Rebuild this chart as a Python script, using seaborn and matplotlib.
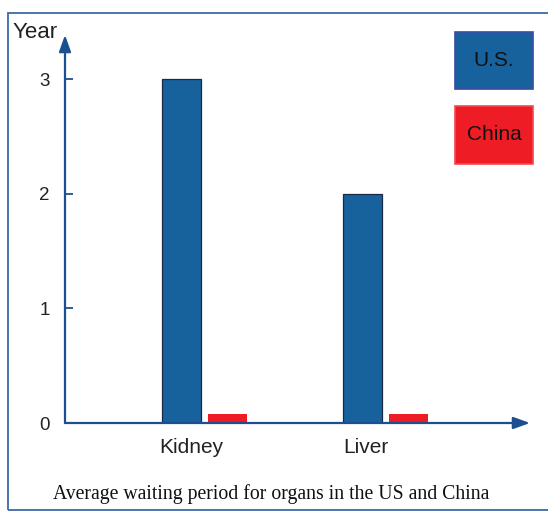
import matplotlib
matplotlib.use("Agg")
import matplotlib.pyplot as plt
import matplotlib.transforms as mtrans
from matplotlib.patches import Rectangle
import seaborn as sns
import pandas as pd

# ---- data ----
organs = ["Kidney", "Liver"]
countries = ["U.S.", "China"]
us_years = [3, 2]
china_years = [0.08, 0.08]
y_ticks = [0, 1, 2, 3]
caption = "Average waiting period for organs in the US and China"
y_title = "Year"

US_COLOR = "#17629d"
CN_COLOR = "#ee1c25"
AXIS_COLOR = "#1c4f8f"

df = pd.DataFrame({
    "organ": organs * 2,
    "country": [countries[0]] * len(organs) + [countries[1]] * len(organs),
    "years": us_years + china_years,
})

sns.set_style("white")
plt.rcParams["font.family"] = ["Liberation Sans", "DejaVu Sans"]

W, H = 548, 513
fig = plt.figure(figsize=(W / 100, H / 100), dpi=100)
# axes: x from 65 to 530 px, y from 423 (bottom) to 35 (top)
ax = fig.add_axes([65 / W, (H - 423) / H, 465 / W, 388 / H])

sns.barplot(data=df, x="organ", y="years", hue="country", order=organs,
            hue_order=countries, palette=[US_COLOR, CN_COLOR], width=0.508,
            gap=0.145, ax=ax, legend=False, saturation=1)

# edges: US bars dark thin outline, China bars none
for bar, c in zip(ax.patches, [countries[0]] * 2 + [countries[1]] * 2):
    if c == countries[0]:
        bar.set_edgecolor("#1a2a44")
        bar.set_linewidth(0.9)
    else:
        bar.set_edgecolor("none")

px_per_unit = (423 - 79) / 3.0
ax.set_ylim(0, (423 - 35) / px_per_unit)
ax.set_xlim(-0.771, 1.798)

for s in ax.spines.values():
    s.set_visible(False)

# axes with arrow heads
arrow_style = "-|>,head_length=1.0,head_width=0.36"
ax.annotate("", xy=(0, 1), xytext=(0, 0), xycoords="axes fraction",
            arrowprops=dict(arrowstyle=arrow_style, color=AXIS_COLOR, lw=1.6,
                            shrinkA=0, shrinkB=0))
ax.annotate("", xy=(1, 0), xytext=(0, 0), xycoords="axes fraction",
            arrowprops=dict(arrowstyle=arrow_style, color=AXIS_COLOR, lw=1.6,
                            shrinkA=0, shrinkB=0))

ax.set_yticks(y_ticks)
ax.set_yticklabels([str(t) for t in y_ticks])
ax.tick_params(axis="y", direction="in", length=6, width=1.3, color=AXIS_COLOR,
               pad=11, labelsize=13.5, labelcolor="#222222", left=True)
ax.tick_params(axis="x", length=0, pad=11, labelsize=15, labelcolor="#222222")
ax.set_xlabel("")
ax.set_ylabel("")

# shift category labels slightly left, like the reference
offsets = [-13, -20]
for lab, dx in zip(ax.get_xticklabels(), offsets):
    lab.set_transform(lab.get_transform() +
                      mtrans.ScaledTranslation(dx / 100, 0, fig.dpi_scale_trans))

# y title
fig.text(13 / W, (H - 33) / H, y_title, fontsize=16, color="#222222",
         ha="left", va="center")

# legend boxes with text inside
boxes = [(countries[0], US_COLOR, "#3a4aa6", 32, 89),
         (countries[1], CN_COLOR, "#f04a50", 106, 164)]
for label, fc, ec, top, bot in boxes:
    fig.patches.append(Rectangle((455 / W, (H - bot) / H), 78 / W, (bot - top) / H,
                                 transform=fig.transFigure, facecolor=fc,
                                 edgecolor=ec, linewidth=1.2))
    fig.text((455 + 39) / W, (H - (top + bot) / 2) / H, label, fontsize=15,
             color="#111111", ha="center", va="center")

# caption
fig.text(271 / W, (H - 499) / H, caption, fontsize=14.2,
         family=["Liberation Serif", "DejaVu Serif"], color="#111111",
         ha="center", va="baseline")

# frame border (right edge lies outside the image, as in the reference)
fig.patches.append(Rectangle((8 / W, (H - 510) / H), 560 / W, 497 / H,
                             transform=fig.transFigure, facecolor="none",
                             edgecolor="#3e6aa6", linewidth=1.3))

fig.savefig("out.png", dpi=100)
